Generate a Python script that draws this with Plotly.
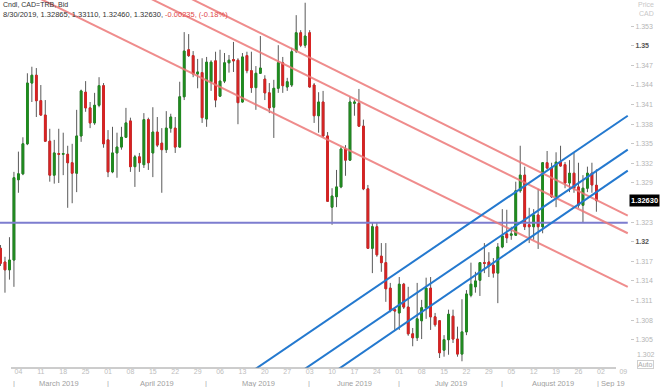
import pandas as pd
import plotly.graph_objects as go

# ---------------- data ----------------
dates = pd.bdate_range("2019-02-26", "2019-08-30")

opens = [1.3190, 1.3169, 1.3157, 1.3172, 1.3295, 1.3304, 1.3350, 1.3443, 1.3455, 1.3416,
         1.3394, 1.3354, 1.3302, 1.3335, 1.3334, 1.3334, 1.3321, 1.3305, 1.3362, 1.3429,
         1.3405, 1.3382, 1.3409, 1.3439, 1.3356, 1.3307, 1.3336, 1.3345, 1.3360, 1.3385,
         1.3315, 1.3330, 1.3318, 1.3387, 1.3336, 1.3368, 1.3351, 1.3341, 1.3374, 1.3374,
         1.3345, 1.3422, 1.3494, 1.3485, 1.3457, 1.3459, 1.3388, 1.3445, 1.3477, 1.3423,
         1.3446, 1.3474, 1.3479, 1.3478, 1.3414, 1.3485, 1.3462, 1.3436, 1.3458, 1.3449,
         1.3428, 1.3406, 1.3435, 1.3474, 1.3437, 1.3440, 1.3492, 1.3520, 1.3501, 1.3520,
         1.3440, 1.3393, 1.3414, 1.3362, 1.3253, 1.3269, 1.3284, 1.3342, 1.3325, 1.3412,
         1.3412, 1.3377, 1.3281, 1.3190, 1.3223, 1.3178, 1.3168, 1.3129, 1.3096, 1.3091,
         1.3135, 1.3100, 1.3059, 1.3053, 1.3079, 1.3099, 1.3129, 1.3085, 1.3079, 1.3034,
         1.3050, 1.3086, 1.3051, 1.3028, 1.3062, 1.3118, 1.3131, 1.3141, 1.3168, 1.3169,
         1.3164, 1.3152, 1.3192, 1.3212, 1.3210, 1.3210, 1.3278, 1.3302, 1.3226, 1.3223,
         1.3241, 1.3223, 1.3321, 1.3313, 1.3269, 1.3322, 1.3318, 1.3290, 1.3305, 1.3284,
         1.3256, 1.3282, 1.3305, 1.32865]
highs = [1.3195, 1.3177, 1.3207, 1.3307, 1.3338, 1.3360, 1.3458, 1.3468, 1.3466, 1.3440,
         1.3417, 1.3373, 1.3356, 1.3373, 1.3367, 1.3347, 1.3350, 1.3402, 1.3433, 1.3446,
         1.3414, 1.3428, 1.3452, 1.3443, 1.3371, 1.3376, 1.3367, 1.3376, 1.3405, 1.3390,
         1.3333, 1.3336, 1.3397, 1.3390, 1.3406, 1.3391, 1.3374, 1.3400, 1.3396, 1.3391,
         1.3445, 1.3521, 1.3518, 1.3492, 1.3480, 1.3481, 1.3483, 1.3478, 1.3491, 1.3494,
         1.3489, 1.3486, 1.3506, 1.3481, 1.3489, 1.3491, 1.3491, 1.3469, 1.3515, 1.3455,
         1.3443, 1.3448, 1.3501, 1.3483, 1.3451, 1.3497, 1.3547, 1.3524, 1.3566, 1.3524,
         1.3443, 1.3429, 1.3431, 1.3368, 1.3282, 1.3310, 1.3345, 1.3348, 1.3422, 1.3417,
         1.3434, 1.3387, 1.3287, 1.3230, 1.3229, 1.3198, 1.3198, 1.3137, 1.3100, 1.3146,
         1.3137, 1.3131, 1.3068, 1.3137, 1.3111, 1.3145, 1.3146, 1.3091, 1.3080, 1.3057,
         1.3096, 1.3096, 1.3070, 1.3112, 1.3126, 1.3168, 1.3154, 1.3169, 1.3198, 1.3184,
         1.3175, 1.3198, 1.3250, 1.3249, 1.3223, 1.3292, 1.3347, 1.3315, 1.3252, 1.3250,
         1.3281, 1.3322, 1.3339, 1.3321, 1.3337, 1.3347, 1.3322, 1.3325, 1.3336, 1.3321,
         1.3302, 1.3315, 1.3321, 1.3311]
lows = [1.3163, 1.3122, 1.3142, 1.3131, 1.3275, 1.3302, 1.3348, 1.3414, 1.3391, 1.3393,
        1.3353, 1.3292, 1.3289, 1.3290, 1.3302, 1.3252, 1.3259, 1.3276, 1.3353, 1.3399,
        1.3374, 1.3379, 1.3406, 1.3344, 1.3299, 1.3305, 1.3298, 1.3341, 1.3359, 1.3307,
        1.3284, 1.3307, 1.3313, 1.3310, 1.3299, 1.3345, 1.3275, 1.3336, 1.3367, 1.3336,
        1.3344, 1.3417, 1.3483, 1.3452, 1.3435, 1.3382, 1.3376, 1.3431, 1.3406, 1.3422,
        1.3443, 1.3459, 1.3460, 1.3380, 1.3413, 1.3458, 1.3428, 1.3402, 1.3457, 1.3417,
        1.3397, 1.3359, 1.3428, 1.3428, 1.3431, 1.3437, 1.3489, 1.3498, 1.3497, 1.3436,
        1.3382, 1.3367, 1.3360, 1.3261, 1.3226, 1.3253, 1.3282, 1.3301, 1.3324, 1.3393,
        1.3376, 1.3279, 1.3189, 1.3152, 1.3177, 1.3154, 1.3108, 1.3092, 1.3065, 1.3065,
        1.3097, 1.3056, 1.3040, 1.3048, 1.3051, 1.3082, 1.3065, 1.3070, 1.3022, 1.3024,
        1.3027, 1.3045, 1.3024, 1.3017, 1.3057, 1.3115, 1.3122, 1.3117, 1.3152, 1.3146,
        1.3145, 1.3106, 1.3190, 1.3198, 1.3203, 1.3209, 1.3275, 1.3218, 1.3198, 1.3203,
        1.3189, 1.3213, 1.3311, 1.3267, 1.3253, 1.3315, 1.3282, 1.3276, 1.3275, 1.3252,
        1.3229, 1.3276, 1.3275, 1.3246]
closes = [1.3167, 1.3157, 1.3172, 1.3298, 1.3304, 1.3350, 1.3443, 1.3455, 1.3416, 1.3394,
          1.3354, 1.3302, 1.3336, 1.3334, 1.3335, 1.3321, 1.3305, 1.3362, 1.3431, 1.3405,
          1.3382, 1.3409, 1.3439, 1.3350, 1.3307, 1.3336, 1.3345, 1.3360, 1.3382, 1.3315,
          1.3330, 1.3321, 1.3387, 1.3321, 1.3368, 1.3348, 1.3341, 1.3374, 1.3391, 1.3345,
          1.3422, 1.3492, 1.3485, 1.3457, 1.3460, 1.3390, 1.3475, 1.3475, 1.3417, 1.3446,
          1.3474, 1.3478, 1.3477, 1.3413, 1.3483, 1.3462, 1.3436, 1.3458, 1.3466, 1.3428,
          1.3405, 1.3435, 1.3474, 1.3439, 1.3445, 1.3491, 1.3520, 1.3501, 1.3515, 1.3437,
          1.3393, 1.3414, 1.3362, 1.3262, 1.3270, 1.3284, 1.3342, 1.3325, 1.3414, 1.3414,
          1.3377, 1.3281, 1.3190, 1.3223, 1.3180, 1.3168, 1.3128, 1.3095, 1.3094, 1.3135,
          1.3100, 1.3059, 1.3053, 1.3082, 1.3099, 1.3129, 1.3085, 1.3073, 1.3030, 1.3050,
          1.3089, 1.3051, 1.3028, 1.3062, 1.3120, 1.3135, 1.3140, 1.3168, 1.3167, 1.3163,
          1.3152, 1.3192, 1.3209, 1.3206, 1.3212, 1.3278, 1.3302, 1.3223, 1.3223, 1.3241,
          1.3223, 1.3321, 1.3313, 1.3269, 1.3322, 1.3316, 1.3290, 1.3305, 1.3282, 1.3256,
          1.3282, 1.3305, 1.3287, 1.3263]

# drawn trend lines: start/end anchor (date, price)
red_start_dates = ["2019-04-25 12:00", "2019-04-12 12:00", "2019-03-08 12:00"]
red_start_prices = [1.3574, 1.3574, 1.3575]
red_end_dates = ["2019-09-10 12:00", "2019-09-10 12:00", "2019-09-10 12:00"]
red_end_prices = [1.3240, 1.3213, 1.3131]

blue_start_dates = ["2019-05-15 12:00", "2019-05-30 12:00", "2019-06-11 12:00"]
blue_start_prices = [1.3001, 1.3001, 1.3003]
blue_end_dates = ["2019-09-10 12:00", "2019-09-10 12:00", "2019-09-10 12:00"]
blue_end_prices = [1.3393, 1.3341, 1.3309]

hline_price = 1.3229

y_ticks = [1.305, 1.308, 1.311, 1.314, 1.317, 1.32, 1.323, 1.329, 1.332,
           1.335, 1.338, 1.341, 1.344, 1.347, 1.35, 1.353]
bold_ticks = [1.32, 1.35]

month_labels = ["March 2019", "April 2019", "May 2019", "June 2019", "July 2019", "August 2019"]
month_label_pos = ["2019-03-15 12:00", "2019-04-16 12:00", "2019-05-17 00:00",
                   "2019-06-17 12:00", "2019-07-17 00:00", "2019-08-16 21:00"]
month_sep_pos = ["2019-03-01 10:00", "2019-04-01 10:00", "2019-05-01 10:00",
                 "2019-06-03 10:00", "2019-07-01 10:00", "2019-08-01 10:00", "2019-08-30 23:00"]

header1 = "Cndl, CAD=TRB, Bid"
header2 = "8/30/2019, 1.32865, 1.33110, 1.32460, 1.32630, "
header2_change = "-0.00235, (-0.18%)"
last_price_label = "1.32630"

# ---------------- styling ----------------
FONT = "Liberation Sans, Arial, sans-serif"
GREEN = "#1f8c1f"
RED = "#d92323"
WICK = "#5a5a5a"
RED_LINE = "rgba(236,120,120,0.85)"
BLUE_LINE = "#2479cf"
PURPLE = "#7d7dcf"

x = [d + pd.Timedelta(hours=12) for d in dates]
body_hi = [max(o, c) for o, c in zip(opens, closes)]
body_lo = [min(o, c) for o, c in zip(opens, closes)]

fig = go.Figure()

# wicks
fig.add_trace(go.Candlestick(
    x=x, open=opens, high=highs, low=lows, close=closes,
    increasing=dict(line=dict(color=WICK, width=1), fillcolor=WICK),
    decreasing=dict(line=dict(color=WICK, width=1), fillcolor=WICK),
    whiskerwidth=0, hoverinfo="skip", showlegend=False))
# bodies
fig.add_trace(go.Candlestick(
    x=x, open=opens, high=body_hi, low=body_lo, close=closes,
    increasing=dict(line=dict(color=GREEN, width=1), fillcolor=GREEN),
    decreasing=dict(line=dict(color=RED, width=1), fillcolor=RED),
    whiskerwidth=0, hoverinfo="skip", showlegend=False))

# horizontal line
fig.add_trace(go.Scatter(x=["2019-02-25 12:00", "2019-09-10 12:00"], y=[hline_price, hline_price],
                         mode="lines", line=dict(color=PURPLE, width=2),
                         hoverinfo="skip", showlegend=False))
for xs, ys, xe, ye in zip(red_start_dates, red_start_prices, red_end_dates, red_end_prices):
    fig.add_trace(go.Scatter(x=[xs, xe], y=[ys, ye], mode="lines",
                             line=dict(color=RED_LINE, width=2), hoverinfo="skip", showlegend=False))
for xs, ys, xe, ye in zip(blue_start_dates, blue_start_prices, blue_end_dates, blue_end_prices):
    fig.add_trace(go.Scatter(x=[xs, xe], y=[ys, ye], mode="lines",
                             line=dict(color=BLUE_LINE, width=2), hoverinfo="skip", showlegend=False))

mondays = pd.date_range("2019-03-04", "2019-09-09", freq="W-MON")
tick_x = [d + pd.Timedelta(hours=12) for d in mondays]
tick_txt = [d.strftime("%d") for d in mondays]

def ytxt(v):
    s = f"{v:.3f}".rstrip("0")
    if v in bold_ticks:
        return f'<span style="color:#555"><b>{s}</b></span>'
    return s

fig.update_layout(
    width=660, height=387,
    margin=dict(l=0, r=30, t=0, b=19),
    paper_bgcolor="white", plot_bgcolor="white",
    boxgap=0.45,
    font=dict(family=FONT, size=7, color="#b5b5b5"),
    xaxis=dict(type="date",
               rangebreaks=[dict(bounds=["sat", "mon"])],
               range=["2019-02-26 09:22", "2019-09-11 00:00"],
               rangeslider=dict(visible=False),
               tickmode="array", tickvals=tick_x, ticktext=tick_txt,
               tickfont=dict(size=7, color="#bdbdbd"),
               ticklabelstandoff=-2,
               ticks="", showgrid=False, zeroline=False, showline=False),
    yaxis=dict(side="right", range=[1.30067, 1.35702],
               tickmode="array", tickvals=y_ticks, ticktext=[ytxt(v) for v in y_ticks],
               ticks="outside", ticklen=3, tickcolor="#c8c8c8",
               tickfont=dict(size=7, color="#b5b5b5"),
               showgrid=False, zeroline=False, showline=False),
)

# x axis baseline
fig.add_shape(type="line", xref="paper", yref="paper", x0=11 / 630, x1=616 / 630, y0=0, y1=0,
              line=dict(color="#9a9a9a", width=1))

ann = []
for lbl, pos in zip(month_labels, month_label_pos):
    ann.append(dict(x=pos, xref="x", y=0, yref="paper", yshift=-15, yanchor="middle",
                    text=lbl, showarrow=False, font=dict(size=7.5, color="#a0a0a0")))
for pos in month_sep_pos:
    ann.append(dict(x=pos, xref="x", y=0, yref="paper", yshift=-15, yanchor="middle",
                    text="|", showarrow=False, font=dict(size=7.5, color="#a8a8a8")))
ann.append(dict(x="2019-09-02 00:00", xref="x", xanchor="left", y=0, yref="paper", yshift=-15,
                yanchor="middle", text="Sep 19", showarrow=False, font=dict(size=7.5, color="#a0a0a0")))
# header
ann.append(dict(x=0, xref="paper", xanchor="left", xshift=1, y=1, yref="paper", yanchor="middle",
                yshift=-4.5, text=header1, showarrow=False, font=dict(size=7, color="#333333")))
ann.append(dict(x=0, xref="paper", xanchor="left", xshift=1, y=1, yref="paper", yanchor="middle",
                yshift=-14, text=header2 + f'<span style="color:#e04848">{header2_change}</span>',
                showarrow=False, font=dict(size=7.5, color="#333333")))
# right side labels
ann.append(dict(x=1, xref="paper", xanchor="center", xshift=16, y=1, yref="paper", yanchor="middle",
                yshift=-4, text="Price", showarrow=False, font=dict(size=7, color="#c8c8c8")))
ann.append(dict(x=1, xref="paper", xanchor="center", xshift=16, y=1, yref="paper", yanchor="middle",
                yshift=-13, text="CAD", showarrow=False, font=dict(size=7, color="#c8c8c8")))
ann.append(dict(x=1, xref="paper", xanchor="left", xshift=-1, y=closes[-1], yref="y", yanchor="middle",
                text=f"<b>{last_price_label}</b>", showarrow=False, bgcolor="black", borderpad=1,
                font=dict(size=7.5, color="white")))
ann.append(dict(x=1, xref="paper", xanchor="left", xshift=5, y=0, yref="paper", yanchor="middle",
                yshift=14, text="1.302", showarrow=False, font=dict(size=7, color="#b5b5b5")))
ann.append(dict(x=1, xref="paper", xanchor="left", xshift=7, y=0, yref="paper", yanchor="middle",
                yshift=4, text="Auto", showarrow=False, bordercolor="#cfcfcf", borderwidth=1, borderpad=0,
                font=dict(size=7, color="#ababab")))
fig.update_layout(annotations=ann)

fig.write_html("out.html")
